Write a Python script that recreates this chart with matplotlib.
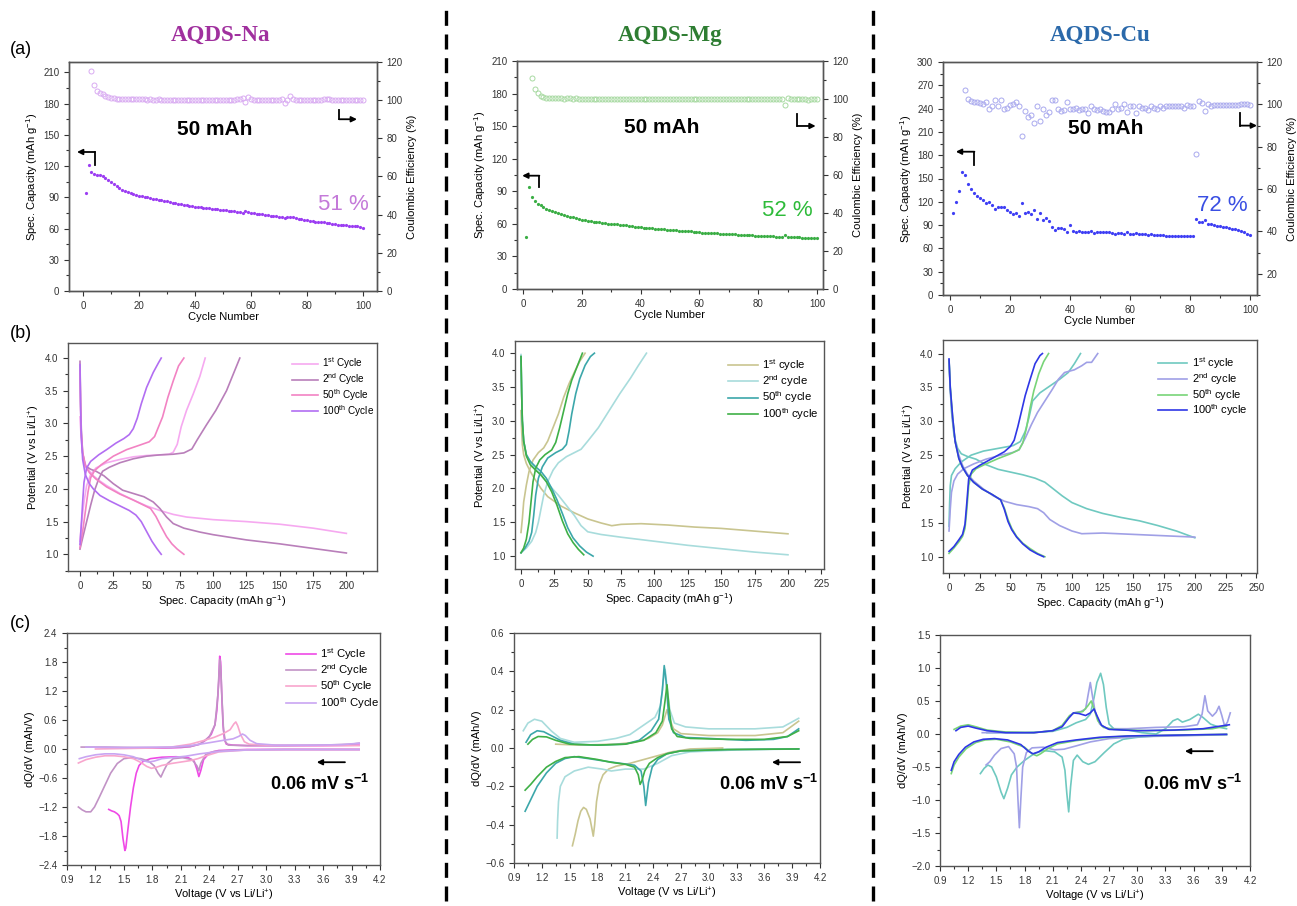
import numpy as np
import matplotlib
matplotlib.use("Agg")
import matplotlib.pyplot as plt
from matplotlib.lines import Line2D
from matplotlib.ticker import MultipleLocator

plt.rcParams['font.family'] = ['Liberation Sans', 'DejaVu Sans']
plt.rcParams['mathtext.fontset'] = 'custom'
plt.rcParams['mathtext.rm'] = 'Liberation Sans'
plt.rcParams['mathtext.it'] = 'Liberation Sans:italic'
plt.rcParams['mathtext.bf'] = 'Liberation Sans:bold'

W, H = 1297, 906

# ---------------- (a) cycling data ----------------
cycle_no = np.arange(1, 101)

na_capacity = [94, 121, 114, 112, 111.5, 111, 110, 108.5, 107, 105,
               103, 101, 99, 97.5, 96.5, 95.5, 94.5, 93.5, 92.5, 91.5,
               91, 90.5, 90, 89, 88.5, 88, 87.5, 87, 86.5, 86,
               85.5, 85, 84.5, 84, 83.5, 83, 82.5, 82, 81.5, 81,
               80.5, 80.5, 80, 80, 79.5, 79, 79, 78.5, 78, 78,
               77.5, 77, 76.5, 76.5, 76, 75.5, 75, 77, 75.5, 75,
               74.5, 74, 74, 73.5, 73, 73, 72.5, 72, 72, 71.5,
               71, 70.5, 71.5, 71.5, 71, 70, 69.5, 69, 68.5, 68,
               67.5, 67, 66.5, 66.5, 66, 66, 65.5, 65, 64.5, 64,
               63.5, 63.5, 63, 63, 62.5, 62.5, 62, 62, 61.5, 61]
na_ce_first = 3
na_ce = [115.5, 108, 105, 104, 103, 102, 101.5, 101.2, 101,
         100.8, 100.8, 100.7, 100.7, 100.6, 100.6, 100.5, 100.5, 100.5,
         100.4, 100.4, 100.3, 100.4, 100.3, 100.3, 100.4, 100.3, 100.3, 100.3,
         100.3, 100.2, 100.3, 100.2, 100.2, 100.3, 100.2, 100.2, 100.1, 100.2,
         100.2, 100.1, 100.2, 100.1, 100.1, 100.2, 100.2, 100.1, 100.2, 100.2,
         100.2, 100.3, 100.2, 100.3, 100.4, 100.6,
         101.0, 98.8, 101.5, 100.6,
         100.3, 100.3, 100.2, 100.2, 100.2, 100.2, 100.2, 100.2, 100.3, 100.3, 100.4,
         98.4, 100.0, 102.0, 100.4,
         100.3, 100.3, 100.3, 100.2, 100.3, 100.3, 100.3, 100.2, 100.1, 100.2,
         100.4, 100.4, 100.4, 100.3, 100.3, 100.3, 100.3, 100.2, 100.3, 100.3,
         100.3, 100.3, 100.3, 100.3, 100.3]

mg_capacity = [48, 94, 85, 81, 78.5, 77, 75.5, 74, 73, 72,
               71, 70, 69, 68, 67.5, 66.5, 66, 65, 64.5, 64,
               63.5, 63, 62.5, 62, 61.5, 61.5, 61, 60.5, 60, 60,
               59.5, 59.5, 59, 58.5, 58.5, 58, 58, 57.5, 57, 57,
               56.5, 56.5, 56, 56, 55.5, 55.5, 55, 55, 54.5, 54.5,
               54, 54, 53.5, 53.5, 53.5, 53, 53, 52.5, 52.5, 52.5,
               52, 52, 52, 51.5, 51.5, 51.5, 51, 51, 51, 50.5,
               50.5, 50.5, 50, 50, 50, 49.5, 49.5, 49.5, 49, 49,
               49, 48.5, 48.5, 48.5, 48.5, 48, 48, 48, 50, 48,
               47.8, 47.7, 47.6, 47.5, 47.4, 47.3, 47.2, 47.1, 47, 47]
mg_ce_first = 3
mg_ce = [111, 105.5, 103, 101.8, 101, 100.6, 100.4,
         100.3, 100.3, 100.3, 100.3, 100.2, 100.3, 100.3, 100.2, 100.3, 100.2, 100.2,
         100.2, 100.2, 100.1, 100.2, 100.2, 100.2, 100.1, 100.2, 100.2, 100.2,
         100.1, 100.2, 100.2, 100.1, 100.2, 100.2, 100.1, 100.1, 100.2, 100.1,
         100.0, 100.0, 100.1, 100.0, 100.0, 100.0, 100.1, 100.0, 100.0, 100.0,
         99.9, 100.0, 100.0, 99.9, 100.0, 100.0, 99.9, 100.0, 100.0, 99.9,
         99.9, 99.9, 100.0, 99.9, 99.9, 99.9, 99.9, 99.8, 99.9, 99.9,
         99.9, 99.9, 99.8, 99.9, 99.9, 99.9, 99.8, 99.8, 99.8, 99.9,
         99.8, 99.8, 99.8, 99.9, 99.8, 99.8, 99.9, 99.8,
         96.6, 100.7,
         100.2, 100.0, 99.9, 99.8, 99.8, 99.8, 99.7, 99.8, 99.8, 99.8]

cu_capacity = [106, 120, 134, 158, 154, 143, 136, 131, 128, 125,
               122, 119, 120, 116, 111, 113, 113, 113, 110, 107,
               104, 105, 102, 119, 106, 107, 104, 110, 98, 105,
               96, 99, 95, 87, 84, 86, 86, 85, 81, 90,
               82, 81, 82, 81, 81, 80.5, 82, 80, 80.5, 80.5,
               80.5, 81, 81, 80, 79, 80, 79.5, 79, 80.5, 79,
               78.5, 80, 78, 78, 78, 77.5, 78.5, 77, 77.5, 77,
               77, 76.5, 76.5, 76.5, 76.5, 76.5, 76.5, 76.5, 76.5, 76,
               76, 98, 94, 94, 96, 91.5, 91, 90, 89, 88.5,
               87.5, 87, 86, 85.5, 84.5, 83.5, 82, 80.5, 79, 77]
cu_ce_first = 5
cu_ce = [106.9, 102.7, 101.5, 101, 101, 100.5, 100, 101, 98, 99,
         102, 99, 102, 98, 98.5, 99.5, 100, 101, 99, 85,
         97, 94, 95, 91, 99, 92, 98, 95, 96.5, 102,
         102, 98, 97, 97.5, 101, 98, 98, 98.5, 97.5, 98,
         98, 96, 99, 98, 97.5, 98, 97, 96.5, 96.5, 98,
         100, 98, 98.5, 100, 96.5, 99, 99, 96, 99, 98.5,
         98.5, 97.5, 99, 98.5, 98, 99, 98.5, 99, 99, 99,
         99, 99, 99, 98.5, 99.5, 99, 99,
         76.5, 101.5, 100.5, 97, 100, 99, 99.5, 99.5, 99.5,
         99.5, 99.5, 99.5, 99.6, 99.7, 99.8, 100, 100, 100, 99.9]

# ---------------- (b) charge/discharge curves: (capacity, potential) ----------------
na_gcd_1_dis = [(0, 3.1), (1, 2.75), (2, 2.55), (4, 2.38), (6, 2.3), (10, 2.2), (15, 2.12), (20, 2.05), (30, 1.93),
                (40, 1.83), (50, 1.74), (60, 1.67), (70, 1.61), (80, 1.57), (100, 1.53), (125, 1.5), (150, 1.46),
                (175, 1.4), (200, 1.32)]
na_gcd_1_chg = [(0, 1.2), (1, 1.45), (3, 1.8), (5, 2.05), (8, 2.22), (12, 2.32), (20, 2.4), (30, 2.45), (40, 2.49),
                (50, 2.51), (60, 2.52), (67, 2.53), (70, 2.56), (73, 2.68), (76, 2.95), (80, 3.2), (85, 3.45),
                (90, 3.72), (94, 4.0)]
na_gcd_2_dis = [(0, 3.95), (0.5, 3.3), (1, 2.9), (2, 2.55), (4, 2.35), (8, 2.3), (12, 2.27), (18, 2.2), (25, 2.08),
                (32, 1.98), (40, 1.93), (48, 1.88), (55, 1.8), (60, 1.7), (65, 1.57), (70, 1.47), (78, 1.4),
                (90, 1.34), (100, 1.3), (125, 1.22), (150, 1.16), (175, 1.09), (200, 1.02)]
na_gcd_2_chg = [(0, 1.08), (2, 1.25), (5, 1.5), (8, 1.75), (11, 1.98), (14, 2.15), (17, 2.27), (22, 2.33), (30, 2.4),
                (40, 2.46), (50, 2.5), (60, 2.52), (70, 2.53), (78, 2.55), (84, 2.61), (88, 2.75), (95, 2.98),
                (102, 3.2), (110, 3.5), (116, 3.8), (120, 4.0)]
na_gcd_50_dis = [(0, 3.8), (0.5, 3.2), (1, 2.85), (2, 2.55), (4, 2.35), (7, 2.25), (12, 2.15), (20, 2.03), (30, 1.92),
                 (40, 1.83), (47, 1.76), (53, 1.7), (57, 1.58), (61, 1.42), (65, 1.27), (69, 1.16), (73, 1.08),
                 (78, 1.0)]
na_gcd_50_chg = [(0, 1.1), (2, 1.35), (4, 1.65), (6, 1.95), (8, 2.17), (11, 2.28), (16, 2.37), (25, 2.5), (35, 2.6),
                 (45, 2.67), (52, 2.72), (56, 2.8), (59, 2.95), (62, 3.1), (66, 3.4), (70, 3.65), (74, 3.88),
                 (78, 4.0)]
na_gcd_100_dis = [(0, 3.9), (0.5, 3.2), (1, 2.8), (2, 2.45), (4, 2.22), (7, 2.08), (10, 2.0), (15, 1.9), (22, 1.82),
                  (30, 1.74), (37, 1.67), (42, 1.6), (46, 1.5), (50, 1.35), (54, 1.2), (58, 1.08), (61, 1.0)]
na_gcd_100_chg = [(0, 1.15), (1, 1.45), (2, 1.8), (3, 2.1), (5, 2.32), (8, 2.42), (14, 2.52), (20, 2.6), (27, 2.7),
                  (33, 2.77), (37, 2.83), (40, 2.92), (43, 3.08), (46, 3.3), (50, 3.55), (55, 3.78), (59, 3.93),
                  (61, 4.0)]

mg_gcd_1_dis = [(0, 3.15), (0.5, 2.85), (1, 2.65), (2, 2.5), (4, 2.37), (7, 2.25), (10, 2.15), (15, 2.0), (20, 1.88),
                (30, 1.74), (40, 1.64), (50, 1.55), (60, 1.49), (68, 1.45), (75, 1.47), (90, 1.48), (110, 1.46),
                (130, 1.43), (150, 1.41), (175, 1.37), (200, 1.33)]
mg_gcd_1_chg = [(0, 1.35), (1, 1.55), (2, 1.8), (4, 2.05), (6, 2.25), (9, 2.42), (13, 2.53), (17, 2.6), (20, 2.7),
                (24, 2.9), (28, 3.1), (32, 3.35), (36, 3.55), (40, 3.72), (44, 3.88), (48, 4.0)]
mg_gcd_2_dis = [(0, 3.98), (0.5, 3.4), (1, 3.0), (2, 2.7), (4, 2.5), (7, 2.38), (11, 2.28), (16, 2.17), (22, 2.03),
                (28, 1.9), (34, 1.75), (40, 1.6), (45, 1.45), (50, 1.36), (60, 1.32), (75, 1.28), (100, 1.22),
                (125, 1.16), (150, 1.11), (175, 1.06), (200, 1.02)]
mg_gcd_2_chg = [(0, 1.05), (4, 1.12), (8, 1.22), (11, 1.35), (13, 1.5), (15, 1.7), (17, 1.9), (20, 2.1), (24, 2.27),
                (28, 2.38), (34, 2.47), (40, 2.53), (45, 2.58), (50, 2.7), (58, 2.9), (66, 3.15), (74, 3.4),
                (82, 3.63), (88, 3.82), (94, 4.0)]
mg_gcd_50_dis = [(0, 3.95), (0.5, 3.4), (1, 3.0), (2, 2.7), (4, 2.5), (7, 2.4), (11, 2.32), (15, 2.25), (19, 2.15),
                 (23, 2.0), (27, 1.83), (31, 1.63), (35, 1.42), (39, 1.27), (44, 1.15), (49, 1.06), (54, 1.0)]
mg_gcd_50_chg = [(0, 1.05), (3, 1.12), (6, 1.22), (8, 1.35), (9.5, 1.6), (11, 1.9), (13, 2.15), (16, 2.32), (20, 2.45),
                 (26, 2.53), (31, 2.58), (34, 2.65), (36, 2.85), (38, 3.1), (41, 3.4), (44, 3.62), (48, 3.82),
                 (52, 3.95), (55, 4.0)]
mg_gcd_100_dis = [(0, 3.95), (0.5, 3.4), (1, 3.0), (2, 2.7), (4, 2.48), (7, 2.35), (11, 2.27), (15, 2.2), (19, 2.1),
                  (23, 1.95), (27, 1.75), (31, 1.52), (35, 1.33), (39, 1.2), (43, 1.1), (47, 1.02)]
mg_gcd_100_chg = [(0, 1.05), (2, 1.12), (4, 1.25), (6, 1.5), (7.5, 1.8), (9, 2.1), (11, 2.3), (14, 2.42), (18, 2.5),
                  (23, 2.57), (26, 2.68), (29, 2.9), (32, 3.15), (35, 3.4), (38, 3.6), (42, 3.8), (46, 4.0)]

cu_gcd_1_dis = [(0, 3.9), (1, 3.5), (2, 3.15), (4, 2.8), (7, 2.6), (10, 2.52), (15, 2.48), (22, 2.44), (30, 2.36),
                (40, 2.29), (50, 2.25), (60, 2.21), (70, 2.16), (78, 2.1), (85, 2.0), (92, 1.9), (100, 1.8),
                (112, 1.71), (125, 1.64), (140, 1.58), (155, 1.53), (170, 1.46), (185, 1.38), (200, 1.28)]
cu_gcd_1_chg = [(0, 1.45), (0.5, 1.8), (1, 2.05), (2, 2.2), (5, 2.3), (10, 2.4), (18, 2.5), (28, 2.56), (40, 2.6),
                (52, 2.64), (58, 2.7), (62, 2.85), (65, 3.05), (68, 3.3), (74, 3.42), (82, 3.52), (90, 3.62),
                (97, 3.72), (102, 3.85), (107, 4.0)]
cu_gcd_2_dis = [(0, 3.9), (1, 3.45), (3, 3.0), (5, 2.7), (8, 2.5), (11, 2.35), (15, 2.22), (20, 2.12), (28, 2.0),
                (36, 1.9), (45, 1.82), (55, 1.77), (65, 1.74), (72, 1.71), (77, 1.65), (82, 1.55), (90, 1.46),
                (100, 1.38), (108, 1.34), (125, 1.35), (150, 1.33), (175, 1.31), (200, 1.29)]
cu_gcd_2_chg = [(0, 1.38), (1, 1.7), (2, 1.95), (4, 2.12), (7, 2.22), (12, 2.3), (20, 2.37), (30, 2.44), (42, 2.5),
                (52, 2.54), (57, 2.58), (62, 2.75), (67, 2.95), (72, 3.13), (78, 3.3), (84, 3.47), (89, 3.62),
                (94, 3.72), (102, 3.76), (108, 3.82), (112, 3.87), (116, 3.87), (121, 4.0)]
cu_gcd_50_dis = [(0, 3.9), (1, 3.5), (3, 3.05), (5, 2.7), (8, 2.45), (11, 2.32), (15, 2.2), (20, 2.1), (27, 2.0),
                 (35, 1.92), (42, 1.84), (45, 1.72), (48, 1.55), (51, 1.42), (55, 1.3), (60, 1.2), (66, 1.12),
                 (72, 1.05), (78, 1.0)]
cu_gcd_50_chg = [(0, 1.05), (4, 1.13), (8, 1.22), (11, 1.3), (13, 1.42), (14.5, 1.7), (16, 2.05), (18, 2.22), (22, 2.3),
                 (30, 2.37), (40, 2.45), (50, 2.52), (57, 2.58), (60, 2.68), (63, 2.9), (66, 3.2), (69, 3.45),
                 (73, 3.7), (77, 3.88), (81, 4.0)]
cu_gcd_100_dis = [(0, 3.92), (1, 3.5), (3, 3.05), (5, 2.7), (8, 2.45), (11, 2.32), (15, 2.2), (20, 2.1), (27, 2.0),
                  (35, 1.92), (42, 1.84), (45, 1.7), (48, 1.52), (51, 1.4), (55, 1.29), (60, 1.19), (66, 1.1),
                  (72, 1.04), (77, 1.0)]
cu_gcd_100_chg = [(0, 1.08), (4, 1.15), (8, 1.25), (11, 1.33), (13, 1.48), (14.5, 1.8), (16, 2.15), (19, 2.28),
                  (25, 2.35), (35, 2.45), (45, 2.55), (50, 2.63), (53, 2.72), (56, 2.92), (59, 3.15), (62, 3.38),
                  (66, 3.62), (70, 3.85), (74, 3.97), (76, 4.0)]

# ---------------- (c) differential capacity: (voltage, dQ/dV) ----------------
na_dq_1_dis = [(3.98, -0.01), (3.4, -0.01), (2.8, -0.01), (2.5, -0.03), (2.4, -0.08), (2.34, -0.22), (2.31, -0.45),
               (2.29, -0.57), (2.27, -0.42), (2.24, -0.25), (2.18, -0.18), (2.05, -0.16), (1.9, -0.17), (1.78, -0.2),
               (1.7, -0.26), (1.66, -0.34), (1.63, -0.5), (1.6, -0.8), (1.57, -1.2), (1.54, -1.7), (1.52, -2.05),
               (1.51, -2.1), (1.49, -1.85), (1.47, -1.5), (1.45, -1.38), (1.43, -1.34), (1.4, -1.3), (1.37, -1.28),
               (1.34, -1.25)]
na_dq_1_chg = [(1.35, 0.02), (1.6, 0.02), (1.9, 0.02), (2.1, 0.03), (2.2, 0.05), (2.3, 0.1), (2.36, 0.18),
               (2.42, 0.3), (2.46, 0.5), (2.48, 0.8), (2.5, 1.4), (2.51, 1.92), (2.52, 1.8), (2.53, 1.2),
               (2.545, 0.5), (2.56, 0.2), (2.58, 0.1), (2.65, 0.08), (2.8, 0.07), (3.2, 0.07), (3.6, 0.07),
               (3.98, 0.08)]
na_dq_2_dis = [(3.98, -0.01), (3.2, -0.01), (2.7, -0.02), (2.45, -0.05), (2.36, -0.12), (2.31, -0.3), (2.29, -0.45),
               (2.27, -0.35), (2.22, -0.22), (2.12, -0.18), (2.02, -0.2), (1.96, -0.3), (1.92, -0.45), (1.89, -0.58),
               (1.86, -0.5), (1.82, -0.35), (1.76, -0.25), (1.68, -0.2), (1.58, -0.18), (1.5, -0.2), (1.43, -0.3),
               (1.36, -0.5), (1.3, -0.75), (1.24, -1.0), (1.19, -1.2), (1.15, -1.3), (1.1, -1.3), (1.06, -1.26),
               (1.02, -1.2)]
na_dq_2_chg = [(1.05, 0.04), (1.3, 0.04), (1.6, 0.03), (2.0, 0.03), (2.2, 0.05), (2.3, 0.1), (2.4, 0.25),
               (2.46, 0.5), (2.49, 1.1), (2.51, 1.85), (2.52, 1.7), (2.535, 1.0), (2.55, 0.4), (2.57, 0.15),
               (2.6, 0.08), (2.8, 0.07), (3.2, 0.07), (3.6, 0.08), (3.9, 0.1), (3.98, 0.12)]
na_dq_50_dis = [(3.98, -0.01), (3.2, -0.01), (2.8, -0.02), (2.5, -0.06), (2.35, -0.15), (2.28, -0.2), (2.2, -0.24),
                (2.1, -0.27), (2.0, -0.3), (1.9, -0.34), (1.84, -0.38), (1.79, -0.4), (1.74, -0.36), (1.68, -0.28),
                (1.6, -0.2), (1.5, -0.16), (1.4, -0.14), (1.3, -0.14), (1.2, -0.17), (1.1, -0.22), (1.02, -0.29)]
na_dq_50_chg = [(1.2, 0.0), (1.5, 0.01), (1.8, 0.02), (2.0, 0.04), (2.2, 0.1), (2.35, 0.18), (2.45, 0.24),
                (2.55, 0.32), (2.62, 0.4), (2.66, 0.52), (2.68, 0.56), (2.7, 0.48), (2.73, 0.3), (2.77, 0.15),
                (2.82, 0.1), (3.0, 0.08), (3.5, 0.07), (3.98, 0.07)]
na_dq_100_dis = [(3.98, -0.01), (3.2, -0.01), (2.8, -0.02), (2.5, -0.05), (2.3, -0.1), (2.15, -0.15), (2.0, -0.18),
                 (1.9, -0.2), (1.82, -0.25), (1.76, -0.27), (1.7, -0.24), (1.6, -0.16), (1.5, -0.12), (1.4, -0.1),
                 (1.3, -0.1), (1.2, -0.12), (1.1, -0.16), (1.03, -0.2)]
na_dq_100_chg = [(1.1, 0.04), (1.5, 0.03), (2.0, 0.04), (2.2, 0.07), (2.4, 0.13), (2.55, 0.18), (2.65, 0.21),
                 (2.71, 0.26), (2.75, 0.31), (2.78, 0.28), (2.83, 0.18), (2.9, 0.11), (3.1, 0.08), (3.5, 0.08),
                 (3.8, 0.09), (3.98, 0.12)]

mg_dq_1_dis = [(3.15, 0.0), (2.8, -0.005), (2.6, -0.02), (2.45, -0.04), (2.3, -0.06), (2.15, -0.08), (2.0, -0.095),
               (1.92, -0.11), (1.86, -0.14), (1.82, -0.19), (1.79, -0.28), (1.77, -0.4), (1.755, -0.46),
               (1.74, -0.42), (1.72, -0.37), (1.68, -0.32), (1.65, -0.31), (1.62, -0.33), (1.59, -0.38),
               (1.56, -0.45), (1.53, -0.51)]
mg_dq_1_chg = [(1.35, 0.02), (1.6, 0.015), (2.0, 0.02), (2.2, 0.03), (2.35, 0.05), (2.45, 0.08), (2.5, 0.12),
               (2.55, 0.2), (2.58, 0.15), (2.62, 0.1), (2.7, 0.075), (3.0, 0.065), (3.5, 0.065), (3.8, 0.08),
               (3.97, 0.14)]
mg_dq_2_dis = [(3.97, -0.005), (3.3, -0.01), (2.8, -0.02), (2.6, -0.04), (2.45, -0.08), (2.3, -0.11), (2.1, -0.11),
               (1.95, -0.12), (1.85, -0.11), (1.7, -0.1), (1.55, -0.12), (1.45, -0.15), (1.4, -0.2), (1.38, -0.28),
               (1.37, -0.38), (1.365, -0.47)]
mg_dq_2_chg = [(1.0, 0.09), (1.05, 0.13), (1.12, 0.15), (1.2, 0.14), (1.3, 0.09), (1.4, 0.05), (1.55, 0.03),
               (1.8, 0.035), (2.0, 0.05), (2.15, 0.07), (2.3, 0.12), (2.42, 0.16), (2.48, 0.22), (2.51, 0.35),
               (2.53, 0.41), (2.55, 0.32), (2.58, 0.2), (2.63, 0.13), (2.75, 0.11), (3.0, 0.1), (3.5, 0.1),
               (3.8, 0.11), (3.97, 0.155)]
mg_dq_50_dis = [(3.97, -0.005), (3.2, -0.008), (2.7, -0.015), (2.55, -0.03), (2.45, -0.06), (2.39, -0.1),
                (2.35, -0.18), (2.33, -0.26), (2.32, -0.3), (2.3, -0.2), (2.27, -0.12), (2.2, -0.09), (2.05, -0.08),
                (1.9, -0.07), (1.7, -0.055), (1.55, -0.045), (1.45, -0.055), (1.35, -0.08), (1.25, -0.13),
                (1.15, -0.2), (1.08, -0.27), (1.02, -0.33)]
mg_dq_50_chg = [(1.03, 0.03), (1.08, 0.07), (1.15, 0.09), (1.22, 0.085), (1.3, 0.065), (1.4, 0.04), (1.55, 0.02),
                (1.8, 0.015), (2.1, 0.02), (2.25, 0.04), (2.38, 0.09), (2.46, 0.15), (2.5, 0.3), (2.52, 0.43),
                (2.54, 0.35), (2.57, 0.15), (2.62, 0.08), (2.75, 0.055), (3.0, 0.05), (3.4, 0.04), (3.7, 0.045),
                (3.85, 0.06), (3.97, 0.1)]
mg_dq_100_dis = [(3.97, -0.005), (3.2, -0.008), (2.7, -0.015), (2.55, -0.03), (2.45, -0.05), (2.36, -0.08),
                 (2.31, -0.12), (2.28, -0.17), (2.26, -0.19), (2.24, -0.14), (2.2, -0.1), (2.1, -0.085),
                 (1.95, -0.075), (1.8, -0.06), (1.6, -0.045), (1.45, -0.05), (1.35, -0.07), (1.25, -0.1),
                 (1.15, -0.15), (1.08, -0.19), (1.02, -0.22)]
mg_dq_100_chg = [(1.05, 0.02), (1.1, 0.045), (1.16, 0.06), (1.25, 0.058), (1.35, 0.04), (1.5, 0.02), (1.8, 0.015),
                 (2.1, 0.02), (2.3, 0.04), (2.43, 0.08), (2.5, 0.14), (2.53, 0.25), (2.55, 0.33), (2.57, 0.22),
                 (2.6, 0.1), (2.66, 0.06), (2.8, 0.05), (3.2, 0.045), (3.6, 0.045), (3.85, 0.06), (3.97, 0.09)]

cu_dq_1_dis = [(3.95, -0.01), (3.5, -0.02), (3.2, -0.03), (3.0, -0.05), (2.85, -0.08), (2.75, -0.15), (2.65, -0.28),
               (2.55, -0.42), (2.48, -0.46), (2.42, -0.42), (2.36, -0.32), (2.32, -0.4), (2.29, -0.8), (2.27, -1.18),
               (2.25, -0.9), (2.23, -0.55), (2.2, -0.35), (2.12, -0.27), (2.0, -0.25), (1.9, -0.3), (1.8, -0.4),
               (1.72, -0.5), (1.66, -0.62), (1.62, -0.82), (1.58, -0.98), (1.55, -0.88), (1.5, -0.65),
               (1.45, -0.5), (1.41, -0.47), (1.37, -0.52), (1.33, -0.6)]
cu_dq_1_chg = [(1.4, 0.02), (1.8, 0.02), (2.1, 0.04), (2.25, 0.1), (2.35, 0.17), (2.45, 0.22), (2.5, 0.3),
               (2.54, 0.55), (2.57, 0.78), (2.61, 0.92), (2.64, 0.75), (2.67, 0.4), (2.7, 0.15), (2.75, 0.08),
               (2.9, 0.06), (3.05, 0.02), (3.2, 0.0), (3.3, 0.08), (3.38, 0.2), (3.43, 0.23), (3.48, 0.18),
               (3.56, 0.22), (3.65, 0.3), (3.7, 0.25), (3.78, 0.15), (3.88, 0.1), (3.95, 0.08)]
cu_dq_2_dis = [(3.95, -0.01), (3.4, -0.03), (3.0, -0.04), (2.7, -0.07), (2.5, -0.12), (2.35, -0.18), (2.22, -0.23),
               (2.12, -0.24), (2.0, -0.2), (1.88, -0.21), (1.82, -0.28), (1.78, -0.5), (1.76, -1.0), (1.745, -1.42),
               (1.73, -1.0), (1.715, -0.5), (1.69, -0.3), (1.63, -0.19), (1.55, -0.22), (1.48, -0.32),
               (1.43, -0.42), (1.39, -0.47)]
cu_dq_2_chg = [(1.35, 0.02), (1.6, 0.02), (1.9, 0.02), (2.1, 0.05), (2.2, 0.12), (2.27, 0.25), (2.32, 0.32),
               (2.4, 0.34), (2.45, 0.38), (2.48, 0.62), (2.5, 0.78), (2.52, 0.6), (2.55, 0.35), (2.6, 0.15),
               (2.68, 0.08), (2.9, 0.08), (3.2, 0.1), (3.5, 0.11), (3.64, 0.14), (3.69, 0.3), (3.72, 0.58),
               (3.75, 0.35), (3.8, 0.27), (3.84, 0.33), (3.87, 0.42), (3.9, 0.28), (3.93, 0.12), (3.96, 0.18),
               (3.99, 0.32)]
cu_dq_50_dis = [(3.95, -0.005), (3.3, -0.02), (2.9, -0.03), (2.6, -0.06), (2.35, -0.1), (2.15, -0.15), (2.05, -0.22),
                (1.97, -0.3), (1.93, -0.33), (1.88, -0.3), (1.8, -0.2), (1.65, -0.12), (1.5, -0.08), (1.38, -0.09),
                (1.28, -0.13), (1.18, -0.22), (1.1, -0.35), (1.05, -0.47), (1.02, -0.6)]
cu_dq_50_chg = [(1.05, 0.07), (1.12, 0.12), (1.2, 0.14), (1.28, 0.11), (1.4, 0.06), (1.6, 0.03), (1.9, 0.02),
                (2.1, 0.05), (2.2, 0.13), (2.28, 0.28), (2.33, 0.32), (2.42, 0.34), (2.47, 0.42), (2.51, 0.5),
                (2.54, 0.38), (2.58, 0.2), (2.64, 0.1), (2.75, 0.07), (3.1, 0.05), (3.5, 0.06), (3.8, 0.08),
                (3.95, 0.12)]
cu_dq_100_dis = [(3.95, -0.005), (3.3, -0.02), (2.9, -0.03), (2.6, -0.05), (2.35, -0.09), (2.15, -0.13),
                 (2.03, -0.2), (1.95, -0.27), (1.89, -0.3), (1.84, -0.26), (1.76, -0.16), (1.62, -0.09),
                 (1.48, -0.07), (1.36, -0.08), (1.26, -0.12), (1.17, -0.2), (1.1, -0.31), (1.05, -0.42),
                 (1.02, -0.55)]
cu_dq_100_chg = [(1.07, 0.05), (1.12, 0.1), (1.2, 0.12), (1.28, 0.09), (1.4, 0.05), (1.6, 0.02), (1.9, 0.02),
                 (2.1, 0.05), (2.2, 0.11), (2.27, 0.24), (2.32, 0.32), (2.38, 0.31), (2.45, 0.28), (2.5, 0.32),
                 (2.54, 0.38), (2.57, 0.28), (2.62, 0.13), (2.7, 0.07), (3.0, 0.05), (3.4, 0.06), (3.7, 0.08),
                 (3.98, 0.14)]

labels_cap = ["1$^{\\mathrm{st}}$ Cycle", "2$^{\\mathrm{nd}}$ Cycle", "50$^{\\mathrm{th}}$ Cycle", "100$^{\\mathrm{th}}$ Cycle"]
labels_low = ["1$^{\\mathrm{st}}$ cycle", "2$^{\\mathrm{nd}}$ cycle", "50$^{\\mathrm{th}}$ cycle", "100$^{\\mathrm{th}}$ cycle"]

na_gcd_colors = ['#F6A9F0', '#B97FBA', '#F283C3', '#B26EF2']
na_dq_colors = ['#EF4AE6', '#C293C6', '#F8A6CD', '#C9A5F2']
mg_colors = ['#C9C590', '#A8DCDC', '#3CA7AA', '#3FB047']
cu_colors = ['#6FC9C0', '#A0A0E6', '#78D478', '#2F37E6']

# ---------------- figure ----------------
fig = plt.figure(figsize=(W / 100, H / 100), dpi=100)


def px_axes(l, t, r, b):
    return fig.add_axes([l / W, 1 - b / H, (r - l) / W, (b - t) / H])


def style(ax, xmaj, xmin, ymaj, ymin):
    ax.xaxis.set_major_locator(MultipleLocator(xmaj))
    ax.xaxis.set_minor_locator(MultipleLocator(xmin))
    ax.yaxis.set_major_locator(MultipleLocator(ymaj))
    ax.yaxis.set_minor_locator(MultipleLocator(ymin))
    ax.tick_params(which='both', direction='out', labelsize=7, colors='#333333', width=0.8)
    ax.tick_params(which='major', length=3.5)
    ax.tick_params(which='minor', length=2)
    for s in ax.spines.values():
        s.set_color('#555555')
        s.set_linewidth(1.0)


def bracket(ax, pts, color='k'):
    xs = [p[0] for p in pts]
    ys = [p[1] for p in pts]
    ax.plot(xs[:-1], ys[:-1], color=color, lw=1.3, transform=ax.transAxes, clip_on=False)
    ax.annotate('', xy=pts[-1], xytext=pts[-2], xycoords='axes fraction',
                arrowprops=dict(arrowstyle='-|>', color=color, lw=1.3, mutation_scale=8, shrinkA=0, shrinkB=0))


def cycling(box, xlim, cap, cap_ylim, cap_step, ce_first, ce, ce_ylim, ce_start, cap_color, ce_color,
            pct, pct_color, pct_pos, mah_pos, left_br, right_br):
    ax = px_axes(*box)
    ax2 = ax.twinx()
    ax.plot(cycle_no, cap, 'o', ms=2.3, color=cap_color, mew=0, zorder=3)
    ce_cycles = np.arange(ce_first, ce_first + len(ce))
    ax2.plot(ce_cycles, ce, 'o', ms=3.6, mfc='none', mec=ce_color, mew=0.7)
    ax.set_xlim(*xlim)
    ax.set_ylim(*cap_ylim)
    ax2.set_ylim(*ce_ylim)
    style(ax, 20, 10, cap_step, cap_step / 2)
    style(ax2, 20, 10, 20, 10)
    ax2.set_yticks(np.arange(ce_start, 121, 20))
    ax.set_xlabel('Cycle Number', fontsize=8, labelpad=1)
    ax.set_ylabel('Spec. Capacity (mAh g$^{-1}$)', fontsize=8, labelpad=2)
    ax2.set_ylabel('Coulombic Efficiency (%)', fontsize=8, labelpad=3)
    ax2.text(mah_pos[0], mah_pos[1], '50 mAh', transform=ax2.transAxes, fontsize=15, fontweight='bold',
             ha='center', va='center')
    ax2.text(pct_pos[0], pct_pos[1], pct, transform=ax2.transAxes, fontsize=16, color=pct_color,
             ha='center', va='center')
    bracket(ax2, left_br)
    bracket(ax2, right_br)
    return ax


def curves(ax, sets, colors, labels, lw=1.2):
    for (dis, chg), c, lab in zip(sets, colors, labels):
        d = np.array(dis)
        g = np.array(chg)
        ax.plot(d[:, 0], d[:, 1], color=c, lw=lw, label=lab)
        ax.plot(g[:, 0], g[:, 1], color=c, lw=lw)


# row (a)
cycling((69, 62, 377, 291), (-5, 105), na_capacity, (0, 220), 30, na_ce_first, na_ce, (0, 120), 0,
        '#9C3EF2', '#D9ABF2', '51 %', '#C47AD9', (0.89, 0.376), (0.474, 0.707),
        [(0.084, 0.55), (0.084, 0.607), (0.026, 0.607)],
        [(0.877, 0.79), (0.877, 0.75), (0.935, 0.75)])
cycling((517, 61, 823, 289), (-2, 102), mg_capacity, (0, 210), 30, mg_ce_first, mg_ce, (0, 120), 0,
        '#3BAE45', '#A8DAA2', '52 %', '#2EBB3A', (0.885, 0.343), (0.473, 0.707),
        [(0.073, 0.446), (0.073, 0.497), (0.017, 0.497)],
        [(0.916, 0.766), (0.916, 0.715), (0.976, 0.715)])
cycling((943, 62, 1257, 295), (-2.5, 102.3), cu_capacity, (0, 300), 30, cu_ce_first, cu_ce, (10, 120), 20,
        '#3F3FF4', '#A9A9EE', '72 %', '#3A4FE3', (0.89, 0.386), (0.519, 0.715),
        [(0.1, 0.558), (0.1, 0.615), (0.041, 0.615)],
        [(0.947, 0.78), (0.947, 0.727), (1.0, 0.727)])

# row (b)
gcd_panels = [
    ((68, 343, 377, 571), (-9, 223), (0.745, 4.23), 25,
     [(na_gcd_1_dis, na_gcd_1_chg), (na_gcd_2_dis, na_gcd_2_chg), (na_gcd_50_dis, na_gcd_50_chg),
      (na_gcd_100_dis, na_gcd_100_chg)], na_gcd_colors, labels_cap, (0.725, 0.945), 7.2, 0.0),
    ((515, 341, 824, 569), (-4.5, 227), (0.81, 4.18), 25,
     [(mg_gcd_1_dis, mg_gcd_1_chg), (mg_gcd_2_dis, mg_gcd_2_chg), (mg_gcd_50_dis, mg_gcd_50_chg),
      (mg_gcd_100_dis, mg_gcd_100_chg)], mg_colors, labels_low, (0.69, 0.93), 8.2, 0.05),
    ((943, 340, 1257, 573), (-4.9, 250.6), (0.76, 4.2), 25,
     [(cu_gcd_1_dis, cu_gcd_1_chg), (cu_gcd_2_dis, cu_gcd_2_chg), (cu_gcd_50_dis, cu_gcd_50_chg),
      (cu_gcd_100_dis, cu_gcd_100_chg)], cu_colors, labels_low, (0.686, 0.935), 8.0, 0.0),
]
for box, xl, yl, xstep, sets, cols, labs, lpos, lfs, lsp in gcd_panels:
    ax = px_axes(*box)
    curves(ax, sets, cols, labs)
    ax.set_xlim(*xl)
    ax.set_ylim(*yl)
    style(ax, xstep, xstep / 2, 0.5, 0.25)
    ax.set_xlabel('Spec. Capacity (mAh g$^{-1}$)', fontsize=8, labelpad=2)
    ax.set_ylabel('Potential (V vs Li/Li$^{+}$)', fontsize=8, labelpad=2)
    ax.legend(loc='upper left', bbox_to_anchor=lpos, frameon=False, fontsize=lfs, handlelength=2.6,
              handletextpad=0.4, labelspacing=lsp, borderpad=0, borderaxespad=0)

# row (c)
dq_panels = [
    ((67, 633, 380, 865), (-2.4, 2.4), 0.6,
     [(na_dq_1_dis, na_dq_1_chg), (na_dq_2_dis, na_dq_2_chg), (na_dq_50_dis, na_dq_50_chg),
      (na_dq_100_dis, na_dq_100_chg)], na_dq_colors, labels_cap,
     [(0.888, 0.443), (0.798, 0.443)], (0.808, 0.349)),
    ((514, 633, 820, 863), (-0.6, 0.6), 0.2,
     [(mg_dq_1_dis, mg_dq_1_chg), (mg_dq_2_dis, mg_dq_2_chg), (mg_dq_50_dis, mg_dq_50_chg),
      (mg_dq_100_dis, mg_dq_100_chg)], mg_colors, None,
     [(0.935, 0.438), (0.843, 0.438)], (0.831, 0.343)),
    ((940, 635, 1250, 866), (-2.0, 1.5), 0.5,
     [(cu_dq_1_dis, cu_dq_1_chg), (cu_dq_2_dis, cu_dq_2_chg), (cu_dq_50_dis, cu_dq_50_chg),
      (cu_dq_100_dis, cu_dq_100_chg)], cu_colors, None,
     [(0.88, 0.497), (0.79, 0.497)], (0.816, 0.355)),
]
for box, yl, ystep, sets, cols, labs, arrow, tpos in dq_panels:
    ax = px_axes(*box)
    curves(ax, sets, cols, labs if labs else [None] * 4)
    ax.set_xlim(0.9, 4.2)
    ax.set_ylim(*yl)
    style(ax, 0.3, 0.15, ystep, ystep / 2)
    ax.set_xlabel('Voltage (V vs Li/Li$^{+}$)', fontsize=8, labelpad=2)
    ax.set_ylabel('dQ/dV (mAh/V)', fontsize=8, labelpad=2)
    if labs:
        ax.legend(loc='upper left', bbox_to_anchor=(0.70, 0.945), frameon=False, fontsize=8.2, handlelength=2.6,
                  handletextpad=0.4, labelspacing=0.05, borderpad=0, borderaxespad=0)
    ax.annotate('', xy=arrow[1], xytext=arrow[0], xycoords='axes fraction',
                arrowprops=dict(arrowstyle='-|>', color='k', lw=1.3, mutation_scale=8, shrinkA=0, shrinkB=0))
    ax.text(tpos[0], tpos[1], '0.06 mV s$^{\\mathbf{-1}}$', transform=ax.transAxes, fontsize=13,
            fontweight='bold', ha='center', va='center')

# titles, panel letters, separators
fig.text(221 / W, 1 - 35 / H, 'AQDS-Na', family='Liberation Serif', fontweight='bold', fontsize=16.5,
         color='#A0309E', ha='center', va='center')
fig.text(670 / W, 1 - 35 / H, 'AQDS-Mg', family='Liberation Serif', fontweight='bold', fontsize=16.5,
         color='#2E7D32', ha='center', va='center')
fig.text(1100 / W, 1 - 35 / H, 'AQDS-Cu', family='Liberation Serif', fontweight='bold', fontsize=16.5,
         color='#2B69AA', ha='center', va='center')
for lab, y in [('(a)', 50), ('(b)', 333), ('(c)', 624)]:
    fig.text(10 / W, 1 - y / H, lab, fontsize=13, ha='left', va='center')
for x in (446, 873):
    fig.add_artist(Line2D([x / W, x / W], [0.005, 0.995], color='k', lw=2.4, dashes=(4.5, 2.6),
                          transform=fig.transFigure))

fig.savefig('out.png', dpi=100)
